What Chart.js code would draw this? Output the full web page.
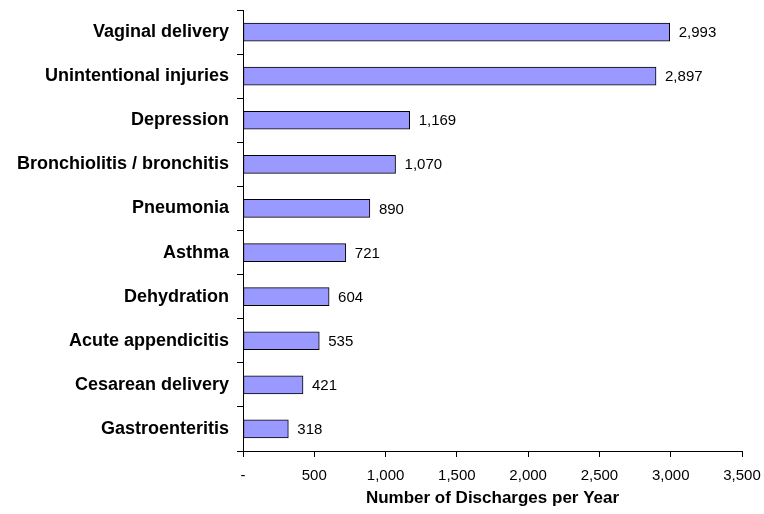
<!DOCTYPE html>
<html>
<head>
<meta charset="utf-8">
<script src="https://cdn.jsdelivr.net/npm/chart.js@4"></script>
<style>
  html, body { margin: 0; padding: 0; background: #fff; }
  #wrap { width: 764px; height: 514px; }
</style>
</head>
<body>
<div id="wrap"><canvas id="chart" width="764" height="514"></canvas></div>
<script>
// Chart data
const categories = [
    'Vaginal delivery',
    'Unintentional injuries',
    'Depression',
    'Bronchiolitis / bronchitis',
    'Pneumonia',
    'Asthma',
    'Dehydration',
    'Acute appendicitis',
    'Cesarean delivery',
    'Gastroenteritis',
];
const discharges = [2993, 2897, 1169, 1070, 890, 721, 604, 535, 421, 318];
const xTicks = [0, 500, 1000, 1500, 2000, 2500, 3000, 3500];
const xTickLabels = ['-', '500', '1,000', '1,500', '2,000', '2,500', '3,000', '3,500'];

const FONT = 'Liberation Sans, Arial, sans-serif';

// Draw value labels at the end of each bar
const valueLabels = {
    id: 'valueLabels',
    afterDatasetsDraw(chart) {
        const ctx = chart.ctx;
        const meta = chart.getDatasetMeta(0);
        ctx.save();
        ctx.font = '15px ' + FONT;
        ctx.fillStyle = '#000';
        ctx.textAlign = 'left';
        ctx.textBaseline = 'middle';
        meta.data.forEach((bar, i) => {
            ctx.fillText(discharges[i].toLocaleString('en-US'), bar.x + 9, bar.y + 1);
        });
        ctx.restore();
    },
};

const ctx = document.getElementById('chart').getContext('2d');
new Chart(ctx, {
    type: 'bar',
    data: {
        labels: categories,
        datasets: [{
            data: discharges,
            backgroundColor: '#9999FF',
            borderColor: '#000',
            borderWidth: 1,
            borderSkipped: false,
            barThickness: 18,
        }],
    },
    options: {
        indexAxis: 'y',
        responsive: false,
        animation: false,
        layout: { padding: { top: 10, right: 22, left: 0, bottom: 1 } },
        plugins: {
            legend: { display: false },
            tooltip: { enabled: false },
        },
        scales: {
            x: {
                min: 0,
                max: 3500,
                afterBuildTicks: (axis) => {
                    axis.ticks = xTicks.map((v) => ({ value: v }));
                },
                afterFit: (axis) => {
                    axis.height = 62;
                    axis.paddingLeft = 0;
                    axis.paddingRight = 0;
                },
                ticks: {
                    callback: (value) => xTickLabels[xTicks.indexOf(value)],
                    color: '#000',
                    font: { family: FONT, size: 15 },
                    padding: 10,
                    maxRotation: 0,
                },
                grid: {
                    drawOnChartArea: false,
                    drawTicks: true,
                    tickLength: 6,
                    color: '#000',
                },
                border: { color: '#000', width: 1 },
                title: {
                    display: true,
                    text: 'Number of Discharges per Year',
                    color: '#000',
                    font: { family: FONT, size: 17, weight: 'bold' },
                    padding: { top: 7 },
                },
            },
            y: {
                afterFit: (axis) => {
                    axis.width = 243;
                    axis.paddingTop = 0;
                    axis.paddingBottom = 0;
                },
                ticks: {
                    color: '#000',
                    font: { family: FONT, size: 18, weight: 'bold' },
                    padding: 8,
                },
                grid: {
                    offset: true,
                    drawOnChartArea: false,
                    drawTicks: true,
                    tickLength: 6,
                    color: '#000',
                },
                border: { color: '#000', width: 1 },
            },
        },
    },
    plugins: [valueLabels],
});
</script>
</body>
</html>
